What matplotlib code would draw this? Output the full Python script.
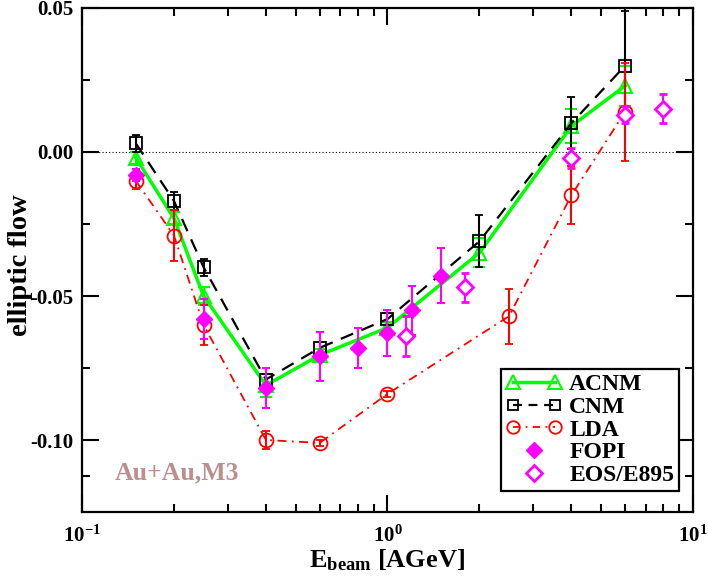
import numpy as np
import matplotlib
matplotlib.use('Agg')
import matplotlib.pyplot as plt
from matplotlib.legend_handler import HandlerLine2D

# fonts: Times-like bold everywhere
plt.rcParams['font.family'] = ['Liberation Serif', 'DejaVu Serif']
plt.rcParams['font.weight'] = 'bold'
plt.rcParams['axes.labelweight'] = 'bold'
plt.rcParams['mathtext.fontset'] = 'custom'
plt.rcParams['mathtext.rm'] = 'Liberation Serif:bold'
plt.rcParams['mathtext.bf'] = 'Liberation Serif:bold'
plt.rcParams['mathtext.it'] = 'Liberation Serif:bold'

# model curves
E_model = [0.15, 0.2, 0.25, 0.4, 0.6, 1.0, 2.0, 4.0, 6.0]
acnm = [-0.002, -0.023, -0.050, -0.081, -0.0705, -0.061, -0.035, 0.009, 0.023]
acnm_err = [0.002, 0.002, 0.003, 0.004, 0.002, 0.002, 0.005, 0.006, 0.007]
cnm = [0.003, -0.017, -0.040, -0.079, -0.068, -0.058, -0.031, 0.010, 0.030]
cnm_err = [0.003, 0.003, 0.003, 0.002, 0.002, 0.002, 0.009, 0.009, 0.019]

E_lda = [0.15, 0.2, 0.25, 0.4, 0.6, 1.0, 2.5, 4.0, 6.0]
lda = [-0.010, -0.029, -0.060, -0.100, -0.101, -0.084, -0.057, -0.015, 0.014]
lda_err = [0.003, 0.009, 0.007, 0.003, 0.001, 0.001, 0.0095, 0.010, 0.017]

# data
E_fopi = [0.15, 0.25, 0.4, 0.6, 0.8, 1.0, 1.2, 1.5]
fopi = [-0.008, -0.058, -0.082, -0.071, -0.068, -0.063, -0.055, -0.043]
fopi_err = [0.002, 0.007, 0.007, 0.0085, 0.007, 0.008, 0.0085, 0.0095]

E_eos = [1.15, 1.8, 4.0, 6.0, 8.0]
eos = [-0.064, -0.047, -0.002, 0.013, 0.015]
eos_err = [0.007, 0.005, 0.0035, 0.003, 0.005]

yticks = [-0.10, -0.05, 0.00, 0.05]
ytick_labels = ['-0.10', '-0.05', '0.00', '0.05']
xticks = [0.1, 1.0, 10.0]
xtick_labels = [r'$10^{-1}$', r'$10^{0}$', r'$10^{1}$']

fig = plt.figure(figsize=(7.08, 5.79), dpi=100)
ax = fig.add_axes([0.1158, 0.1157, 0.863, 0.8705])

ax.axhline(0.0, color='black', lw=0.8, ls=(0, (1, 2)), zorder=1)

# ACNM
ax.errorbar(E_model, acnm, yerr=acnm_err, color='#00ff00', lw=2.5, capsize=4,
            elinewidth=1.5, capthick=1.5, marker='^', ms=10, mfc='none',
            mec='#00ff00', mew=1.5, zorder=3)
# CNM
ax.errorbar(E_model, cnm, yerr=cnm_err, color='black', lw=1.6, ls=(0, (6, 4)),
            capsize=3, elinewidth=1.5, capthick=1.5, marker='s', ms=8.5,
            mfc='none', mec='black', mew=1.3, zorder=4)
# LDA
ax.errorbar(E_lda, lda, yerr=lda_err, color='red', lw=1.3, ls=(0, (5, 3, 1, 3)),
            capsize=3, elinewidth=1.5, capthick=1.5, marker='o', ms=10,
            mfc='none', mec='red', mew=1.3, zorder=5)
# FOPI
ax.errorbar(E_fopi, fopi, yerr=fopi_err, color='#ff00ff', ls='none', capsize=3,
            elinewidth=1.5, capthick=1.5, marker='D', ms=8, mfc='#ff00ff',
            mec='#ff00ff', zorder=6)
# EOS/E895
ax.errorbar(E_eos, eos, yerr=eos_err, color='#ff00ff', ls='none', capsize=3,
            elinewidth=1.5, capthick=1.5, marker='D', ms=8.5, mfc='white',
            mec='#ff00ff', mew=2, zorder=6)

ax.set_xscale('log')
ax.set_xlim(0.1, 10)
ax.set_ylim(-0.125, 0.05)
ax.set_xticks(xticks)
ax.set_xticklabels(xtick_labels)
ax.set_yticks(yticks)
ax.set_yticklabels(ytick_labels)
ax.set_yticks([-0.1125, -0.075, -0.025, 0.025], minor=True)
ax.tick_params(which='both', direction='in', top=True, right=True, width=1.5,
               labelsize=15, pad=6)
ax.tick_params(axis='x', which='major', pad=10)
ax.tick_params(which='major', length=12)
ax.tick_params(which='minor', length=6)
ax.tick_params(axis='x', which='minor', labelbottom=False)
for s in ax.spines.values():
    s.set_linewidth(1.6)

ax.set_xlabel(r'$\mathbf{E}_{\mathbf{beam}}$ [AGeV]', fontsize=19,
              fontweight='bold', labelpad=0)
ax.set_ylabel('elliptic flow', fontsize=20.5, fontweight='bold')
ax.yaxis.set_label_coords(-0.08, 0.49)

ax.text(0.054, 0.077, 'Au+Au,M3', transform=ax.transAxes, color='#bc8f8f',
        fontsize=18.5, va='center', ha='left')

# legend handles
h_acnm, = ax.plot([], [], color='#00ff00', lw=2.5, marker='^', ms=10,
                  mfc='none', mew=1.5, label='ACNM')
h_cnm, = ax.plot([], [], color='black', lw=1.6, ls=(0, (4, 3)), marker='s',
                 ms=7, mfc='none', mew=1.3, label='CNM')
h_lda, = ax.plot([], [], color='red', lw=1.3, ls=(0, (4, 3, 1, 3)), marker='o',
                 ms=9, mfc='none', mew=1.3, label='LDA')
h_fopi, = ax.plot([], [], color='#ff00ff', ls='none', marker='D', ms=8,
                  label='FOPI')
h_eos, = ax.plot([], [], color='#ff00ff', ls='none', marker='D', ms=8,
                 mfc='white', mew=2, label='EOS/E895')

leg = ax.legend(handles=[h_acnm, h_cnm, h_lda, h_fopi, h_eos],
                loc='lower right', bbox_to_anchor=(0.977, 0.042),
                borderaxespad=0, numpoints=2, fontsize=17, fancybox=False,
                framealpha=1, edgecolor='black', handlelength=2.4,
                handletextpad=0.3, labelspacing=0.05, borderpad=0.2,
                handler_map={h_fopi: HandlerLine2D(numpoints=1),
                             h_eos: HandlerLine2D(numpoints=1)})
leg.get_frame().set_linewidth(1.6)

fig.savefig('out.png', dpi=100)
